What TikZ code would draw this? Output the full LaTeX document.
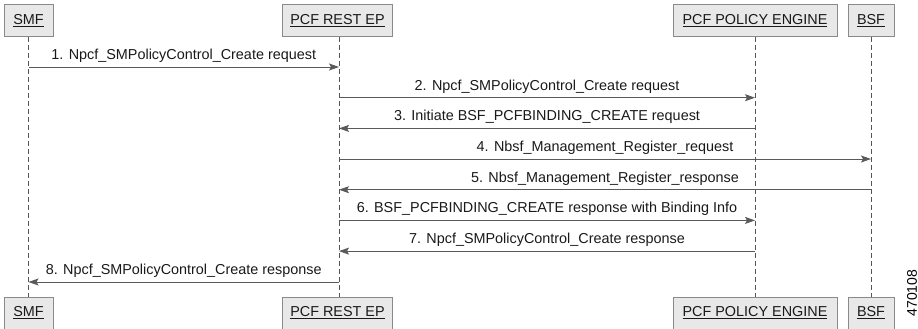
\documentclass[tikz,border=0pt]{standalone}
\usepackage{fontspec}
\setmainfont{Liberation Sans}
\usetikzlibrary{arrows.meta}
\definecolor{boxfill}{HTML}{E8E8E8}
\definecolor{boxline}{HTML}{8A8A8A}
\definecolor{arrowc}{HTML}{5A5A5A}
\definecolor{lifec}{HTML}{555555}
\tikzset{
  actor/.style={draw=boxline, fill=boxfill, line width=0.9pt, minimum height=32pt, inner sep=0pt, font=\fontsize{14.4}{16}\selectfont, text=black!90},
  lifeline/.style={draw=lifec, line width=0.9pt, dash pattern=on 5pt off 3pt},
  msg/.style={draw=arrowc, line width=0.9pt, -{Stealth[length=10pt,width=7pt,inset=2pt]}},
  msglabel/.style={font=\fontsize{14.4}{16}\selectfont, text=black!90, anchor=base, inner sep=0pt}
}
\begin{document}
\begin{tikzpicture}[x=1pt,y=-1pt]
\useasboundingbox (0,0) rectangle (918,329);
% top actors
\node[actor, minimum width=49pt] (smfT) at (28.5,20.5) {\underline{SMF}};
\node[actor, minimum width=110pt] (restT) at (337.5,20.5) {\underline{PCF REST EP}};
\node[actor, minimum width=164pt] (peT) at (755,20.5) {\underline{PCF POLICY ENGINE}};
\node[actor, minimum width=46pt] (bsfT) at (871,20.5) {\underline{BSF}};
% bottom actors
\node[actor, minimum width=49pt] (smfB) at (28.5,313) {\underline{SMF}};
\node[actor, minimum width=110pt] (restB) at (337.5,313) {\underline{PCF REST EP}};
\node[actor, minimum width=164pt] (peB) at (755,313) {\underline{PCF POLICY ENGINE}};
\node[actor, minimum width=46pt] (bsfB) at (871,313) {\underline{BSF}};
% lifelines
\draw[lifeline] (smfT.south) -- (smfB.north);
\draw[lifeline] (339,37) coordinate (restTop) -- (339,297) coordinate (restBot);
\draw[lifeline] (peT.south) -- (peB.north);
\draw[lifeline] (bsfT.south) -- (bsfB.north);
% message endpoints
\foreach \i/\y in {1/67,2/97.7,3/128.4,4/159,5/189.7,6/220.4,7/251.1,8/282}{
  \coordinate (s\i) at (28.5,\y);
  \coordinate (r\i) at (339,\y);
  \coordinate (p\i) at (755,\y);
  \coordinate (b\i) at (871,\y);
}
\draw[msg] (s1) -- node[msglabel, above=4pt] {1. Npcf\_SMPolicyControl\_Create request} (r1);
\draw[msg] (r2) -- node[msglabel, above=4pt] {2. Npcf\_SMPolicyControl\_Create request} (p2);
\draw[msg] (p3) -- node[msglabel, above=4pt] {3. Initiate BSF\_PCFBINDING\_CREATE request} (r3);
\draw[msg] (r4) -- node[msglabel, above=4pt] {4. Nbsf\_Management\_Register\_request} (b4);
\draw[msg] (b5) -- node[msglabel, above=4pt] {5. Nbsf\_Management\_Register\_response} (r5);
\draw[msg] (r6) -- node[msglabel, above=4pt] {6. BSF\_PCFBINDING\_CREATE response with Binding Info} (p6);
\draw[msg] (p7) -- node[msglabel, above=4pt] {7. Npcf\_SMPolicyControl\_Create response} (r7);
\draw[msg] (r8) -- node[msglabel, above=4pt] {8. Npcf\_SMPolicyControl\_Create response} (s8);
% figure id
\node[rotate=90, font=\fontsize{14}{16}\selectfont, inner sep=0pt] (fid) at (912,293) {470108};
\end{tikzpicture}
\end{document}
